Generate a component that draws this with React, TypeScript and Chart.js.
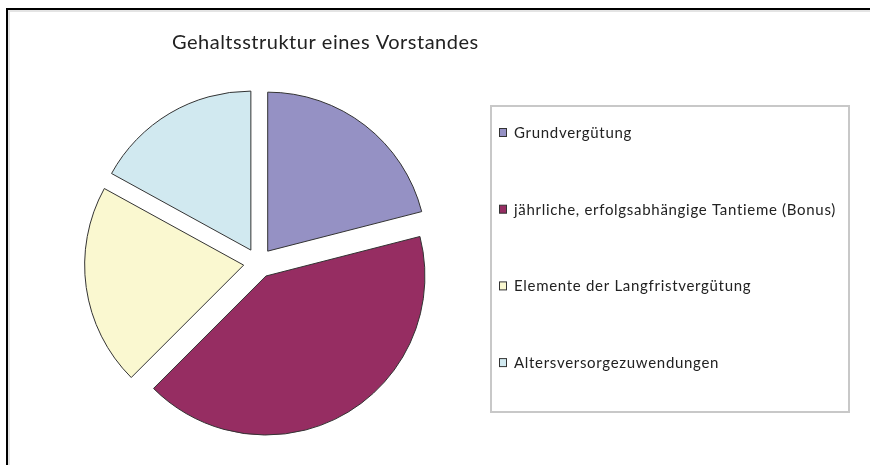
import React, { useEffect, useRef } from "react";
import { Chart, registerables } from "chart.js";

Chart.register(...registerables);

const TITLE = "Gehaltsstruktur eines Vorstandes";
const categories = [
  "Grundvergütung",
  "jährliche, erfolgsabhängige Tantieme (Bonus)",
  "Elemente der Langfristvergütung",
  "Altersversorgezuwendungen",
];
const shares = [21, 41.5, 20.5, 17];
const sliceColors = ["#9591C4", "#962D62", "#FAF8D0", "#D1E9F0"];

const FONT = "Lato, 'Open Sans', sans-serif";
const EXPLODE = 15;

const explodePlugin = {
  id: "explodePie",
  beforeDatasetDraw(chart: any, args: any) {
    const meta = chart.getDatasetMeta(args.index);
    const ctx = chart.ctx;
    meta.data.forEach((arc: any) => {
      const { x, y, startAngle, endAngle, outerRadius } = arc;
      const mid = (startAngle + endAngle) / 2;
      ctx.save();
      ctx.translate(Math.cos(mid) * EXPLODE, Math.sin(mid) * EXPLODE);
      ctx.beginPath();
      ctx.moveTo(x, y);
      ctx.arc(x, y, outerRadius, startAngle, endAngle);
      ctx.closePath();
      ctx.fillStyle = arc.options.backgroundColor;
      ctx.fill();
      ctx.lineWidth = arc.options.borderWidth;
      ctx.strokeStyle = arc.options.borderColor;
      ctx.lineJoin = "miter";
      ctx.stroke();
      ctx.restore();
    });
    return false;
  },
};

const decorPlugin = {
  id: "decor",
  afterDraw(chart: any) {
    const ctx = chart.ctx;
    ctx.save();
    // title
    ctx.fillStyle = "#222";
    ctx.font = `20px ${FONT}`;
    (ctx as any).letterSpacing = "0.5px";
    ctx.textAlign = "left";
    ctx.textBaseline = "middle";
    ctx.fillText(TITLE, 172, 43);
    // legend frame
    (ctx as any).letterSpacing = "0px";
    ctx.strokeStyle = "#c8c8c8";
    ctx.lineWidth = 2;
    ctx.strokeRect(491, 106, 358, 306);
    // legend items
    const labels = chart.data.labels as string[];
    const ds = chart.data.datasets[0];
    ctx.font = `15px ${FONT}`;
    labels.forEach((lab, i) => {
      const cy = 133 + i * 76.7;
      ctx.fillStyle = ds.backgroundColor[i];
      ctx.fillRect(499.5, cy - 4.5, 7, 8);
      ctx.strokeStyle = "#333";
      ctx.lineWidth = 1;
      ctx.strokeRect(499.5, cy - 4.5, 7, 8);
      ctx.fillStyle = "#222";
      (ctx as any).letterSpacing = "0.7px";
      ctx.fillText(lab, 514, cy);
      (ctx as any).letterSpacing = "0px";
    });
    ctx.restore();
  },
};

export default function App() {
  const ref = useRef<HTMLCanvasElement | null>(null);
  useEffect(() => {
    if (!ref.current) return;
    const chart = new Chart(ref.current, {
      type: "pie",
      data: {
        labels: categories,
        datasets: [
          {
            data: shares,
            backgroundColor: sliceColors,
            borderColor: "#333333",
            borderWidth: 1,
          },
        ],
      },
      options: {
        responsive: false,
        animation: false,
        devicePixelRatio: 1,
        radius: 159,
        layout: { padding: { left: 90, right: 443, top: 90, bottom: 29 } },
        plugins: {
          legend: { display: false },
          title: { display: false },
          tooltip: { enabled: false },
        },
      } as any,
      plugins: [explodePlugin, decorPlugin],
    });
    return () => chart.destroy();
  }, []);
  return (
    <div style={{ position: "absolute", left: 0, top: 0, width: 870, height: 465, background: "#fff", overflow: "hidden" }}>
      <canvas ref={ref} width={870} height={465} style={{ position: "absolute", left: 0, top: 0 }} />
      <div
        style={{
          position: "absolute",
          left: 6,
          top: 8,
          width: 870,
          height: 465,
          borderTop: "2px solid #000",
          borderLeft: "2px solid #000",
          boxSizing: "border-box",
          pointerEvents: "none",
        }}
      />
      <div
        style={{
          position: "absolute",
          left: 8,
          top: 10,
          width: 870,
          height: 465,
          borderTop: "2px solid #e4e4e4",
          borderLeft: "2px solid #e4e4e4",
          boxSizing: "border-box",
          pointerEvents: "none",
        }}
      />
    </div>
  );
}
